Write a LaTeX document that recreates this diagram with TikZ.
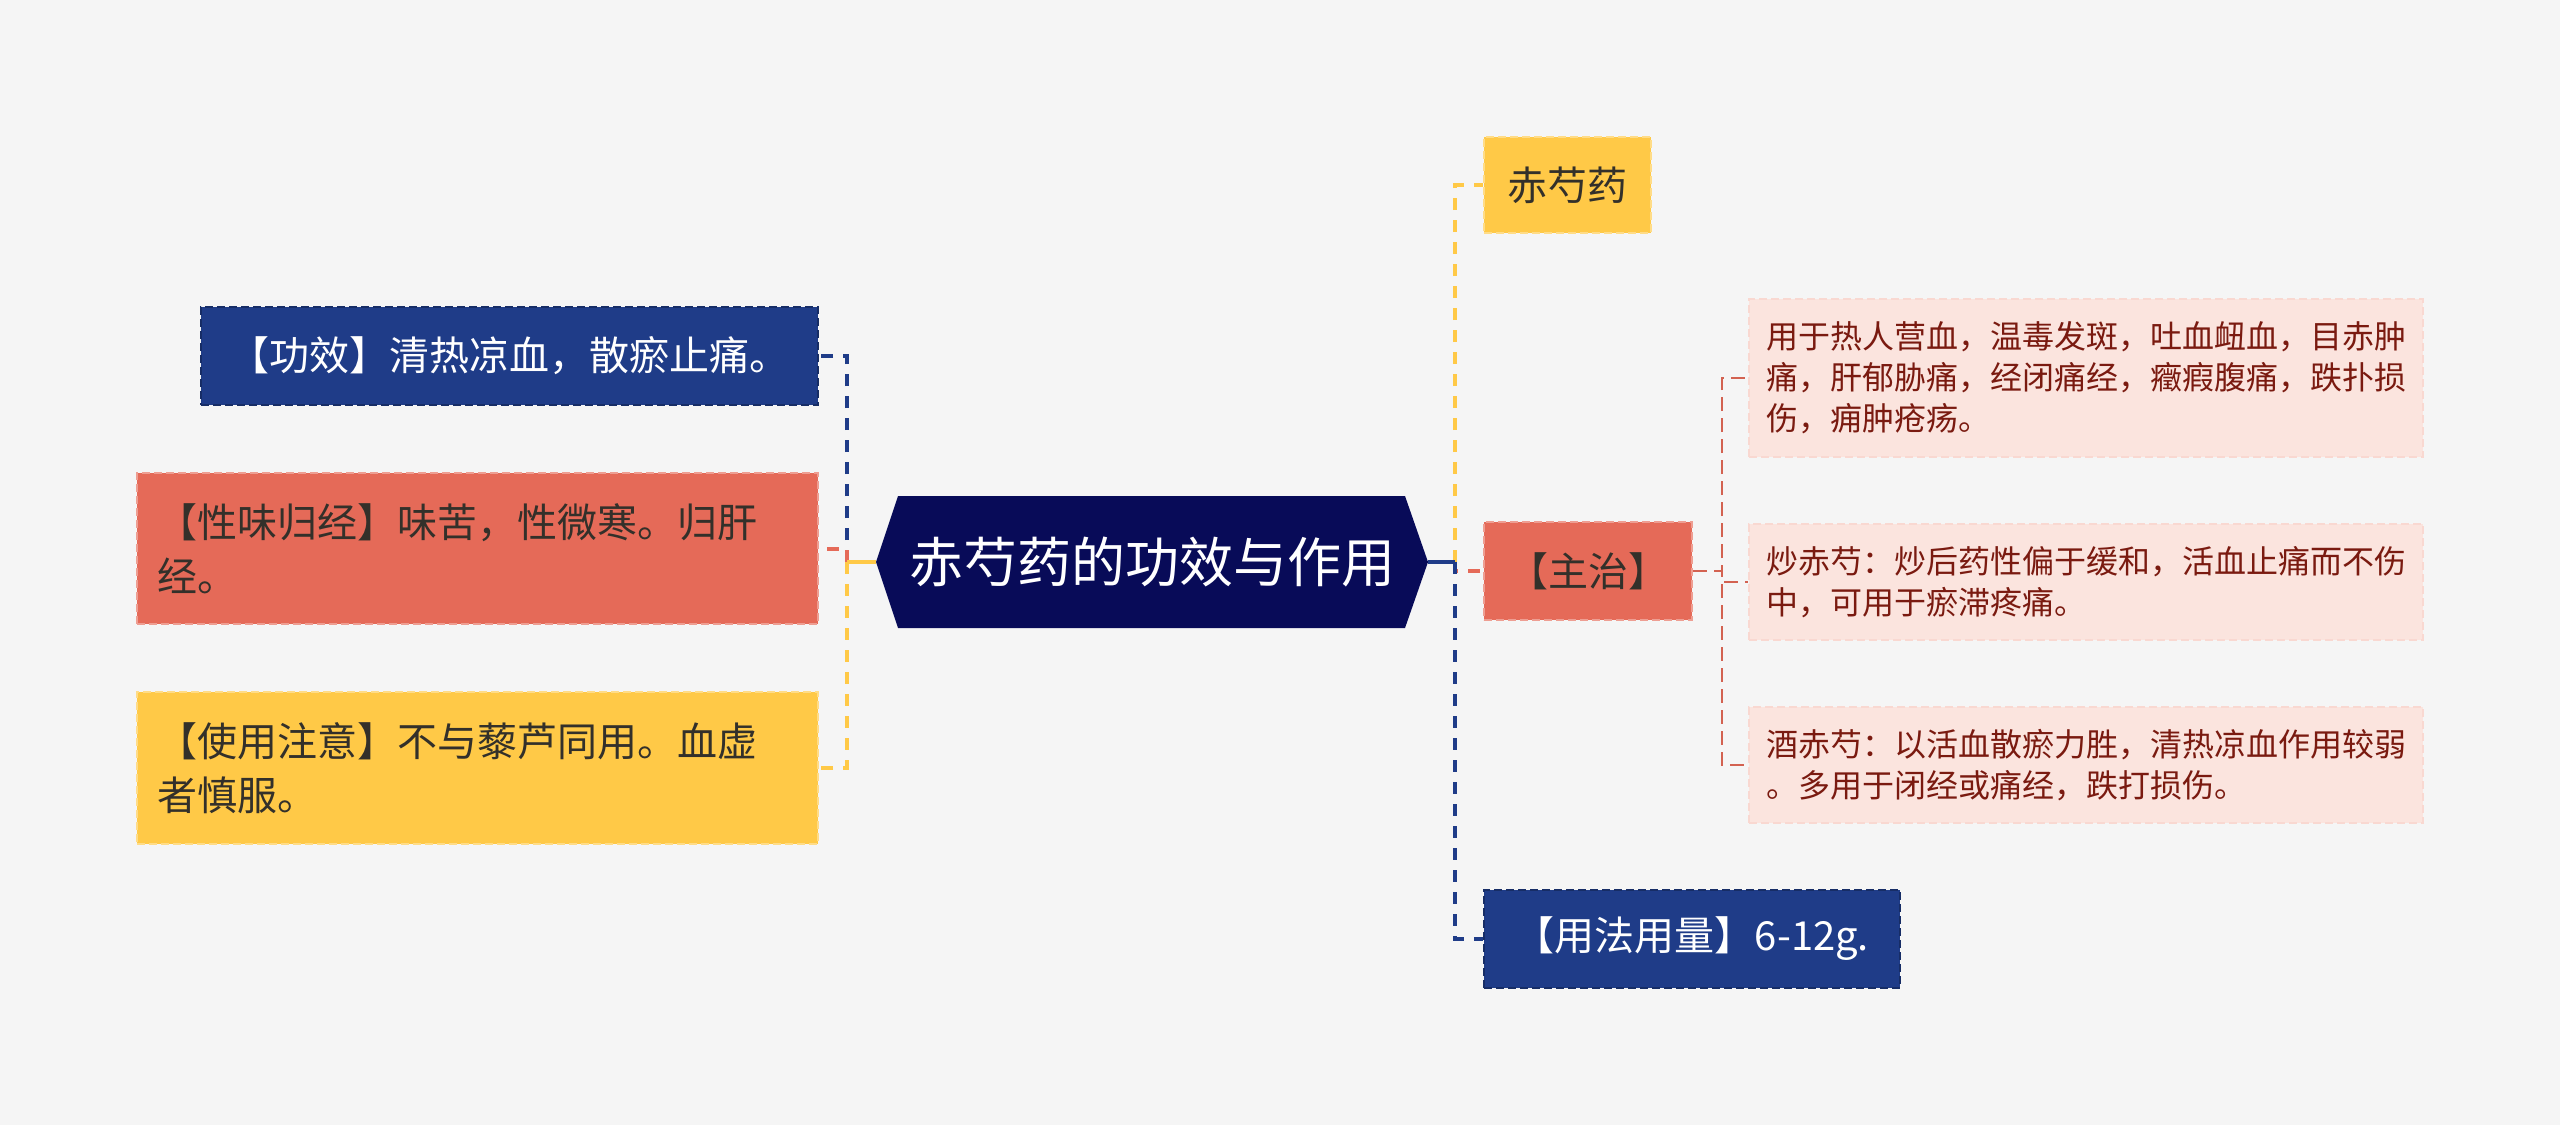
\documentclass[tikz,border=0pt]{standalone}
\usepackage{fontspec}
\setmainfont{Noto Sans CJK SC}
\usepackage{tikz}
\usetikzlibrary{positioning}

\definecolor{bgcol}{HTML}{F5F5F5}
\definecolor{navy}{HTML}{080B58}
\definecolor{boxblue}{HTML}{1F3C88}
\definecolor{boxred}{HTML}{E56A58}
\definecolor{boxyellow}{HTML}{FFC947}
\definecolor{pinkfill}{HTML}{FBE4DE}
\definecolor{darkred}{HTML}{7A1A10}
\definecolor{darktext}{HTML}{33302A}

\tikzset{
    box/.style={rectangle, line width=2pt, dash pattern=on 8pt off 4pt, inner sep=0pt, align=center, font=\fontsize{40}{54}\selectfont},
    bluebox/.style={box, fill=boxblue, draw=boxblue!75!black, text=white},
    redbox/.style={box, fill=boxred, draw=boxred!65!white, text=darktext},
    yellowbox/.style={box, fill=boxyellow, draw=boxyellow!65!white, text=darktext},
    widebox/.style={text width=640pt, inner xsep=20.5pt, align=left},
    detail/.style={box, fill=pinkfill, draw=pinkfill!90!boxred, text=darkred, text width=640pt, inner xsep=17pt, align=left, font=\fontsize{32}{41}\selectfont},
    link/.style={line width=4pt, dash pattern=on 12pt off 10pt},
    stub/.style={line width=4pt},
    sublink/.style={line width=2pt, dash pattern=on 14pt off 7pt, draw=boxred!92!black}
}

\begin{document}
\begin{tikzpicture}[x=1pt, y=-1pt]
    % Background
    \fill[bgcol] (0,0) rectangle (2560,1125);
    \useasboundingbox (0,0) rectangle (2560,1125);

    % Central topic
    \fill[navy] (876,562) -- (898,496) -- (1405,496) -- (1428,562) -- (1405,628) -- (898,628) -- cycle;
    \node[text=white, font=\fontsize{54}{60}\selectfont] (root) at (1152,562) {赤芍药的功效与作用};
    \coordinate (rootL) at (876,562);
    \coordinate (rootR) at (1428,562);
    \coordinate (trunkL) at (847,562);
    \coordinate (trunkR) at (1455,562);

    % Left side
    \node[bluebox, minimum width=617pt, minimum height=98pt] (gongxiao) at (509.5,356) {【功效】清热凉血，散瘀止痛。};
    \node[redbox, widebox, minimum height=151pt] (xingwei) at (477.5,548.5) {【性味归经】味苦，性微寒。归肝\\经。};
    \node[yellowbox, widebox, minimum height=152pt] (zhuyi) at (477.5,768) {【使用注意】不与藜芦同用。血虚\\者慎服。};

    % Right side
    \node[yellowbox, minimum width=167pt, minimum height=96pt] (chishao) at (1567.5,185) {赤芍药};
    \node[redbox, minimum width=208pt, minimum height=98pt] (zhuzhi) at (1588,571) {【主治】};
    \node[bluebox, minimum width=416pt, minimum height=98pt] (yongfa) at (1692,939) {【用法用量】6-12g.};

    % Details of zhuzhi
    \node[detail, minimum height=158pt] (d1) at (2086,378) {用于热人营血，温毒发斑，吐血衄血，目赤肿\\痛，肝郁胁痛，经闭痛经，癥瘕腹痛，跌扑损\\伤，痈肿疮疡。};
    \node[detail, minimum height=116pt] (d2) at (2086,582) {炒赤芍：炒后药性偏于缓和，活血止痛而不伤\\中，可用于瘀滞疼痛。};
    \node[detail, minimum height=116pt] (d3) at (2086,765) {酒赤芍：以活血散瘀力胜，清热凉血作用较弱\\。多用于闭经或痛经，跌打损伤。};

    % Links
    \draw[link, boxblue] (trunkL) |- (gongxiao.east);
    \draw[link, boxred] (trunkL) |- (xingwei.east);
    \draw[link, boxyellow] (trunkL) |- (zhuyi.east);
    \draw[stub, boxyellow] (rootL) -- (trunkL);

    \draw[link, boxyellow] (trunkR) |- (chishao.west);
    \draw[link, boxred] (trunkR) |- (zhuzhi.west);
    \draw[link, boxblue] (trunkR) |- (yongfa.west);
    \draw[stub, boxblue] (rootR) -- (trunkR);

    \draw[sublink] (zhuzhi.east) -- ++(29,0) |- (d1.west);
    \draw[sublink] (zhuzhi.east) -- ++(29,0) |- (d2.west);
    \draw[sublink] (zhuzhi.east) -- ++(29,0) |- (d3.west);
\end{tikzpicture}
\end{document}
